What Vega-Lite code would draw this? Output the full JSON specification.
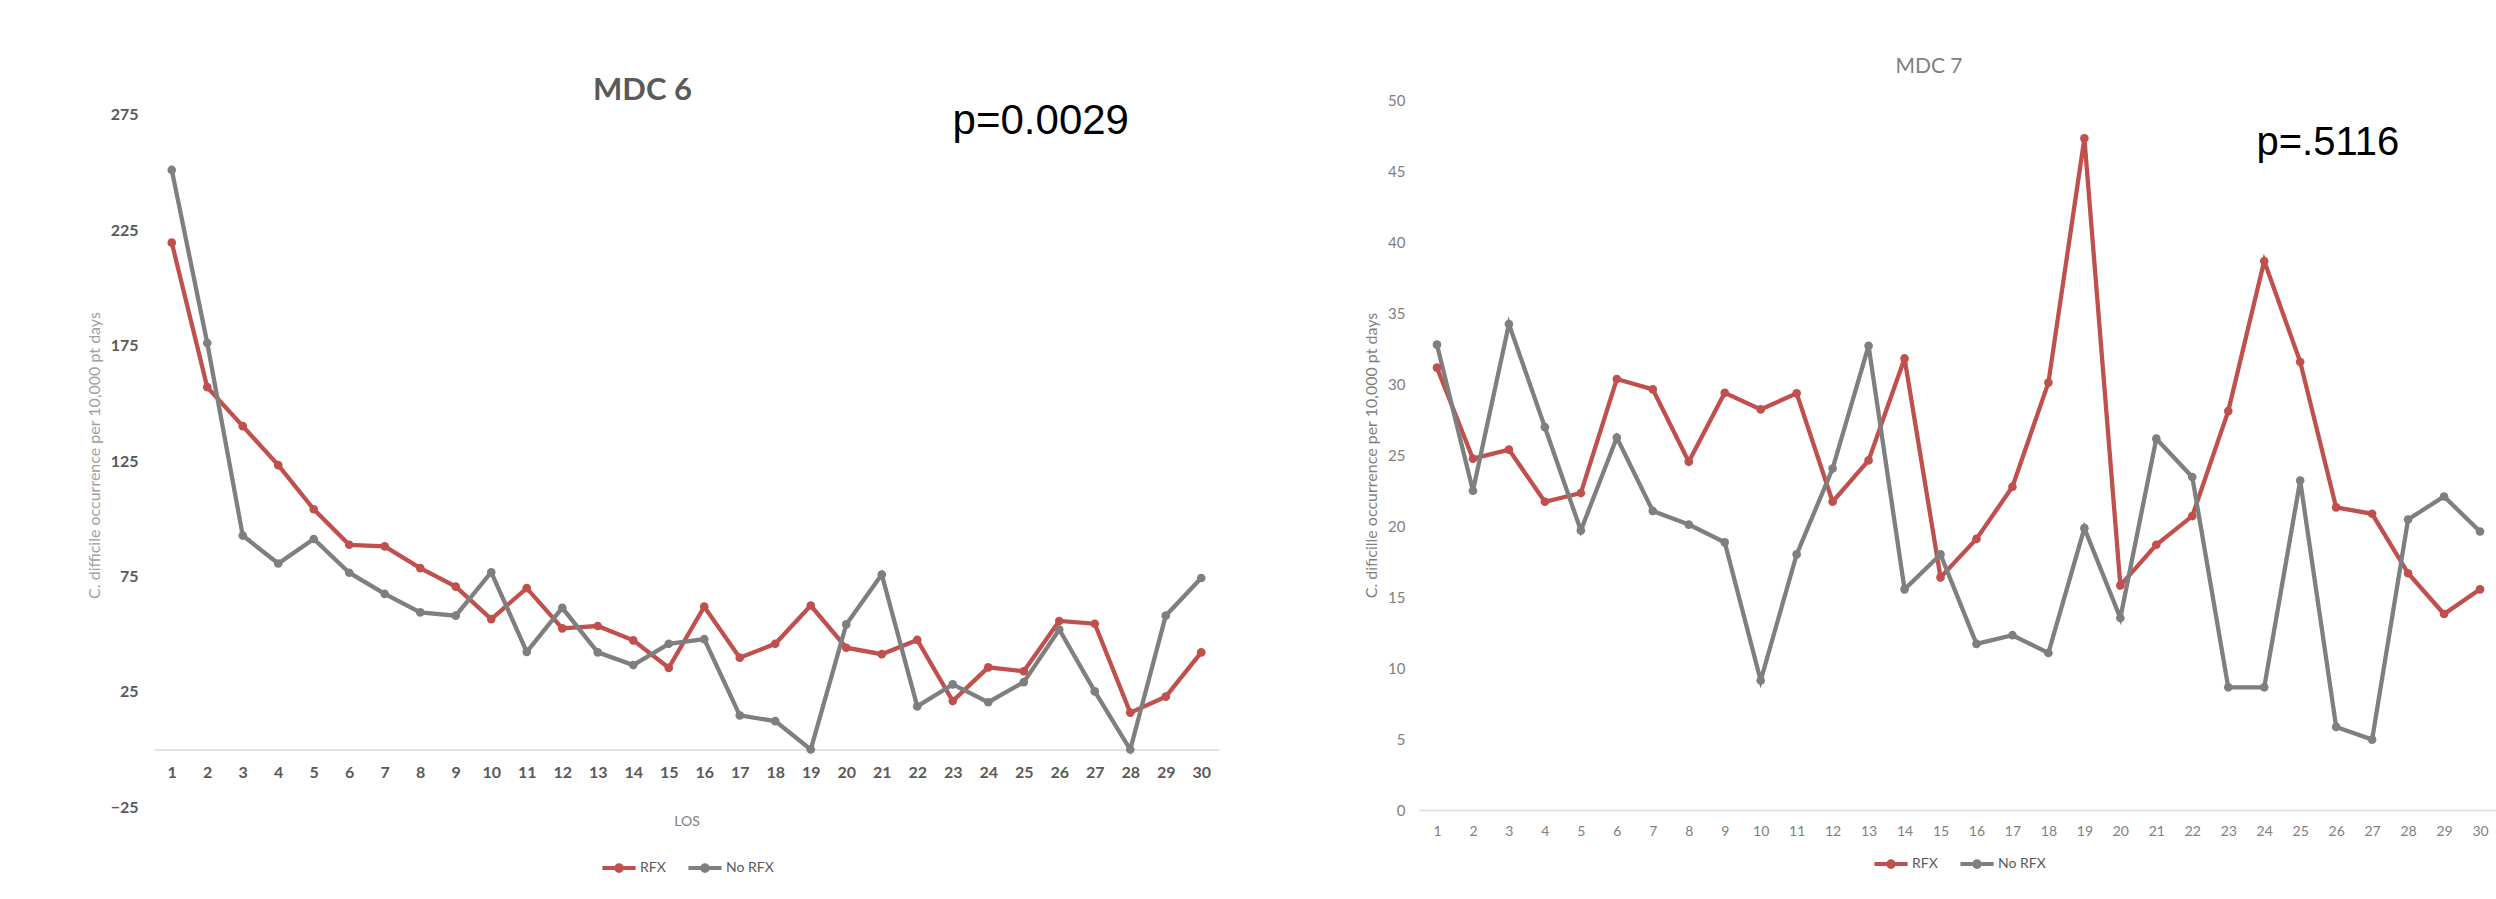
{
  "$schema": "https://vega.github.io/schema/vega-lite/v6.json",
  "background": "white",
  "padding": {"left": 86, "top": 56, "right": 0, "bottom": 10},
  "bounds": "flush",
  "spacing": 200,
  "datasets": {
    "series": [
      {"p":"MDC 6","g":"RFX","los":1,"v":219.6},{"p":"MDC 6","g":"RFX","los":2,"v":157.0},{"p":"MDC 6","g":"RFX","los":3,"v":140.1},{"p":"MDC 6","g":"RFX","los":4,"v":123.2},{"p":"MDC 6","g":"RFX","los":5,"v":104.1},{"p":"MDC 6","g":"RFX","los":6,"v":88.7},{"p":"MDC 6","g":"RFX","los":7,"v":88.0},{"p":"MDC 6","g":"RFX","los":8,"v":78.6},{"p":"MDC 6","g":"RFX","los":9,"v":70.6},{"p":"MDC 6","g":"RFX","los":10,"v":56.5},
      {"p":"MDC 6","g":"RFX","los":11,"v":69.9},{"p":"MDC 6","g":"RFX","los":12,"v":52.5},{"p":"MDC 6","g":"RFX","los":13,"v":53.5},{"p":"MDC 6","g":"RFX","los":14,"v":47.3},{"p":"MDC 6","g":"RFX","los":15,"v":35.4},{"p":"MDC 6","g":"RFX","los":16,"v":61.9},{"p":"MDC 6","g":"RFX","los":17,"v":39.8},{"p":"MDC 6","g":"RFX","los":18,"v":45.8},{"p":"MDC 6","g":"RFX","los":19,"v":62.4},{"p":"MDC 6","g":"RFX","los":20,"v":44.1},
      {"p":"MDC 6","g":"RFX","los":21,"v":41.3},{"p":"MDC 6","g":"RFX","los":22,"v":47.5},{"p":"MDC 6","g":"RFX","los":23,"v":21.0},{"p":"MDC 6","g":"RFX","los":24,"v":35.6},{"p":"MDC 6","g":"RFX","los":25,"v":33.9},{"p":"MDC 6","g":"RFX","los":26,"v":55.7},{"p":"MDC 6","g":"RFX","los":27,"v":54.5},{"p":"MDC 6","g":"RFX","los":28,"v":16.0},{"p":"MDC 6","g":"RFX","los":29,"v":22.9},{"p":"MDC 6","g":"RFX","los":30,"v":42.1},
      {"p":"MDC 6","g":"No RFX","los":1,"v":251.1},{"p":"MDC 6","g":"No RFX","los":2,"v":176.1},{"p":"MDC 6","g":"No RFX","los":3,"v":92.7},{"p":"MDC 6","g":"No RFX","los":4,"v":80.6},{"p":"MDC 6","g":"No RFX","los":5,"v":91.2},{"p":"MDC 6","g":"No RFX","los":6,"v":76.6},{"p":"MDC 6","g":"No RFX","los":7,"v":67.4},{"p":"MDC 6","g":"No RFX","los":8,"v":59.4},{"p":"MDC 6","g":"No RFX","los":9,"v":58.0},{"p":"MDC 6","g":"No RFX","los":10,"v":76.8},
      {"p":"MDC 6","g":"No RFX","los":11,"v":42.3},{"p":"MDC 6","g":"No RFX","los":12,"v":61.4},{"p":"MDC 6","g":"No RFX","los":13,"v":42.1},{"p":"MDC 6","g":"No RFX","los":14,"v":36.6},{"p":"MDC 6","g":"No RFX","los":15,"v":45.8},{"p":"MDC 6","g":"No RFX","los":16,"v":47.8},{"p":"MDC 6","g":"No RFX","los":17,"v":14.8},{"p":"MDC 6","g":"No RFX","los":18,"v":12.3},{"p":"MDC 6","g":"No RFX","los":19,"v":0},{"p":"MDC 6","g":"No RFX","los":20,"v":54.2},
      {"p":"MDC 6","g":"No RFX","los":21,"v":75.8},{"p":"MDC 6","g":"No RFX","los":22,"v":18.7},{"p":"MDC 6","g":"No RFX","los":23,"v":28.2},{"p":"MDC 6","g":"No RFX","los":24,"v":20.5},{"p":"MDC 6","g":"No RFX","los":25,"v":29.2},{"p":"MDC 6","g":"No RFX","los":26,"v":52.0},{"p":"MDC 6","g":"No RFX","los":27,"v":25.2},{"p":"MDC 6","g":"No RFX","los":28,"v":0},{"p":"MDC 6","g":"No RFX","los":29,"v":58.0},{"p":"MDC 6","g":"No RFX","los":30,"v":74.3},
      {"p":"MDC 7","g":"RFX","los":1,"v":31.15},{"p":"MDC 7","g":"RFX","los":2,"v":24.74},{"p":"MDC 7","g":"RFX","los":3,"v":25.38},{"p":"MDC 7","g":"RFX","los":4,"v":21.71},{"p":"MDC 7","g":"RFX","los":5,"v":22.32},{"p":"MDC 7","g":"RFX","los":6,"v":30.35},{"p":"MDC 7","g":"RFX","los":7,"v":29.62},{"p":"MDC 7","g":"RFX","los":8,"v":24.53},{"p":"MDC 7","g":"RFX","los":9,"v":29.38},{"p":"MDC 7","g":"RFX","los":10,"v":28.21},
      {"p":"MDC 7","g":"RFX","los":11,"v":29.34},{"p":"MDC 7","g":"RFX","los":12,"v":21.71},{"p":"MDC 7","g":"RFX","los":13,"v":24.62},{"p":"MDC 7","g":"RFX","los":14,"v":31.8},{"p":"MDC 7","g":"RFX","los":15,"v":16.38},{"p":"MDC 7","g":"RFX","los":16,"v":19.09},{"p":"MDC 7","g":"RFX","los":17,"v":22.76},{"p":"MDC 7","g":"RFX","los":18,"v":30.1},{"p":"MDC 7","g":"RFX","los":19,"v":47.3},{"p":"MDC 7","g":"RFX","los":20,"v":15.82},
      {"p":"MDC 7","g":"RFX","los":21,"v":18.68},{"p":"MDC 7","g":"RFX","los":22,"v":20.7},{"p":"MDC 7","g":"RFX","los":23,"v":28.09},{"p":"MDC 7","g":"RFX","los":24,"v":38.66},{"p":"MDC 7","g":"RFX","los":25,"v":31.56},{"p":"MDC 7","g":"RFX","los":26,"v":21.31},{"p":"MDC 7","g":"RFX","los":27,"v":20.86},{"p":"MDC 7","g":"RFX","los":28,"v":16.67},{"p":"MDC 7","g":"RFX","los":29,"v":13.8},{"p":"MDC 7","g":"RFX","los":30,"v":15.54},
      {"p":"MDC 7","g":"No RFX","los":1,"v":32.77},{"p":"MDC 7","g":"No RFX","los":2,"v":22.48},{"p":"MDC 7","g":"No RFX","los":3,"v":34.22},{"p":"MDC 7","g":"No RFX","los":4,"v":26.96},{"p":"MDC 7","g":"No RFX","los":5,"v":19.69},{"p":"MDC 7","g":"No RFX","los":6,"v":26.23},{"p":"MDC 7","g":"No RFX","los":7,"v":21.06},{"p":"MDC 7","g":"No RFX","los":8,"v":20.1},{"p":"MDC 7","g":"No RFX","los":9,"v":18.85},{"p":"MDC 7","g":"No RFX","los":10,"v":9.12},
      {"p":"MDC 7","g":"No RFX","los":11,"v":18.0},{"p":"MDC 7","g":"No RFX","los":12,"v":24.05},{"p":"MDC 7","g":"No RFX","los":13,"v":32.69},{"p":"MDC 7","g":"No RFX","los":14,"v":15.54},{"p":"MDC 7","g":"No RFX","los":15,"v":18.0},{"p":"MDC 7","g":"No RFX","los":16,"v":11.7},{"p":"MDC 7","g":"No RFX","los":17,"v":12.31},{"p":"MDC 7","g":"No RFX","los":18,"v":11.06},{"p":"MDC 7","g":"No RFX","los":19,"v":19.85},{"p":"MDC 7","g":"No RFX","los":20,"v":13.52},
      {"p":"MDC 7","g":"No RFX","los":21,"v":26.15},{"p":"MDC 7","g":"No RFX","los":22,"v":23.45},{"p":"MDC 7","g":"No RFX","los":23,"v":8.64},{"p":"MDC 7","g":"No RFX","los":24,"v":8.64},{"p":"MDC 7","g":"No RFX","los":25,"v":23.2},{"p":"MDC 7","g":"No RFX","los":26,"v":5.85},{"p":"MDC 7","g":"No RFX","los":27,"v":4.96},{"p":"MDC 7","g":"No RFX","los":28,"v":20.46},{"p":"MDC 7","g":"No RFX","los":29,"v":22.08},{"p":"MDC 7","g":"No RFX","los":30,"v":19.61}
    ],
    "notes": [
      {"p":"MDC 6","label":"p=0.0029","los":25.48,"v":266.7},
      {"p":"MDC 7","label":"p=.5116","los":25.77,"v":46.1}
    ]
  },
  "resolve": {
    "scale": {"color": "independent", "x": "independent", "y": "independent"},
    "legend": {"color": "independent"}
  },
  "config": {
    "view": {"stroke": null},
    "font": "Lato",
    "axis": {"grid": false, "ticks": false, "domain": false, "labelFont": "Lato", "titleFont": "Lato", "labelOverlap": false},
    "legend": {
      "orient": "bottom",
      "direction": "horizontal",
      "layout": {"anchor": "middle", "bottom": {"anchor": "middle"}},
      "symbolType": "M-1,0H1M-0.17,0A0.17,0.17,0,1,1,0.17,0A0.17,0.17,0,1,1,-0.17,0",
      "symbolSize": 1100,
      "symbolStrokeWidth": 4,
      "labelFont": "Lato",
      "labelFontSize": 14,
      "labelColor": "#595959",
      "labelOffset": 2,
      "columnPadding": 14
    }
  },
  "hconcat": [
    {
      "width": 1065,
      "height": 710,
      "title": {"text": "MDC 6", "font": "Lato", "fontSize": 31, "fontWeight": "bold", "color": "#595959", "anchor": "middle", "frame": "group", "baseline": "alphabetic", "offset": 0, "dx": -44, "dy": 31},
      "encoding": {
        "x": {"field": "los", "type": "quantitative",
          "scale": {"domain": [0.5, 30.5], "nice": false, "zero": false},
          "axis": {"values": [1,2,3,4,5,6,7,8,9,10,11,12,13,14,15,16,17,18,19,20,21,22,23,24,25,26,27,28,29,30], "format": "d",
            "labelOverlap": false, "labelFlush": false, "labelBound": false,
            "offset": -60.5, "domain": true, "domainColor": "#d9d9d9", "domainWidth": 1.5,
            "labelFontSize": 16, "labelFontWeight": "bold", "labelColor": "#595959", "labelPadding": 15,
            "title": "LOS", "titleFontSize": 14, "titleFontWeight": "normal", "titleColor": "#808080", "titlePadding": 34}},
        "y": {"field": "v", "type": "quantitative",
          "scale": {"domain": [-26.2, 281.4], "nice": false, "zero": false},
          "axis": {"values": [-25, 25, 75, 125, 175, 225, 275], "labelOverlap": false, "labelFontSize": 16, "labelFontWeight": "bold", "labelColor": "#595959", "labelPadding": 16,
            "title": "C. difficile occurrence per 10,000 pt days", "titleFontSize": 16, "titleFontWeight": "normal", "titleColor": "#a0a0a0", "titlePadding": 8}}
      },
      "layer": [
        {
          "data": {"name": "series"},
          "transform": [{"filter": "datum.p === 'MDC 6'"}],
          "mark": {"type": "line", "strokeWidth": 4.3, "point": {"filled": true, "size": 75}},
          "encoding": {
            "color": {"field": "g", "type": "nominal", "sort": ["RFX", "No RFX"],
              "scale": {"domain": ["RFX", "No RFX"], "range": ["#C0504D", "#7F7F7F"]},
              "legend": {"title": null, "offset": 20}}
          }
        },
        {
          "data": {"name": "notes"},
          "transform": [{"filter": "datum.p === 'MDC 6'"}],
          "mark": {"type": "text", "font": "Liberation Sans", "fontSize": 42, "color": "#000000", "align": "center", "baseline": "alphabetic"},
          "encoding": {
            "text": {"field": "label"}
          }
        }
      ]
    },
    {
      "width": 1079,
      "height": 710,
      "title": {"text": "MDC 7", "font": "Lato", "fontSize": 21, "fontWeight": "normal", "color": "#808080", "anchor": "middle", "frame": "group", "baseline": "alphabetic", "offset": 0, "dx": -29.5, "dy": 1},
      "encoding": {
        "x": {"field": "los", "type": "quantitative",
          "scale": {"domain": [0.5, 30.5], "nice": false, "zero": false},
          "axis": {"values": [1,2,3,4,5,6,7,8,9,10,11,12,13,14,15,16,17,18,19,20,21,22,23,24,25,26,27,28,29,30], "format": "d",
            "labelOverlap": false, "labelFlush": false, "labelBound": false,
            "domain": true, "domainColor": "#d9d9d9", "domainWidth": 1.5,
            "labelFontSize": 14, "labelColor": "#808080", "labelPadding": 14,
            "title": null}},
        "y": {"field": "v", "type": "quantitative",
          "scale": {"domain": [0, 50], "nice": false, "zero": false},
          "axis": {"values": [0, 5, 10, 15, 20, 25, 30, 35, 40, 45, 50], "labelOverlap": false, "labelFontSize": 15, "labelColor": "#808080", "labelPadding": 14,
            "title": "C. dificille occurrence per 10,000 pt days", "titleFontSize": 16, "titleFontWeight": "normal", "titleColor": "#7f7f7f", "titlePadding": 8}}
      },
      "layer": [
        {
          "data": {"name": "series"},
          "transform": [{"filter": "datum.p === 'MDC 7'"}],
          "mark": {"type": "line", "strokeWidth": 4.3, "point": {"filled": true, "size": 75}},
          "encoding": {
            "color": {"field": "g", "type": "nominal", "sort": ["RFX", "No RFX"],
              "scale": {"domain": ["RFX", "No RFX"], "range": ["#C0504D", "#7F7F7F"]},
              "legend": {"title": null, "offset": 7}}
          }
        },
        {
          "data": {"name": "notes"},
          "transform": [{"filter": "datum.p === 'MDC 7'"}],
          "mark": {"type": "text", "font": "Liberation Sans", "fontSize": 40, "color": "#000000", "align": "center", "baseline": "alphabetic"},
          "encoding": {
            "text": {"field": "label"}
          }
        }
      ]
    }
  ]
}
